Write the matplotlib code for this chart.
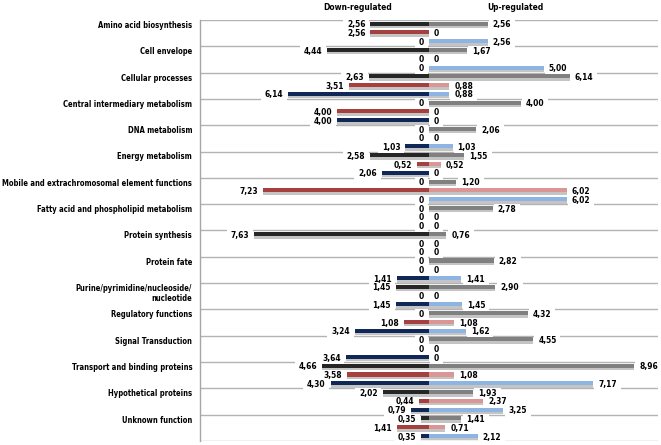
import matplotlib
matplotlib.use('Agg')
import matplotlib.pyplot as plt
import matplotlib.transforms as mtransforms
import numpy as np

categories = [
    "Amino acid biosynthesis",
    "Cell envelope",
    "Cellular processes",
    "Central intermediary metabolism",
    "DNA metabolism",
    "Energy metabolism",
    "Mobile and extrachromosomal element functions",
    "Fatty acid and phospholipid metabolism",
    "Protein synthesis",
    "Protein fate",
    "Purine/pyrimidine/nucleoside/\nnucleotide",
    "Regulatory functions",
    "Signal Transduction",
    "Transport and binding proteins",
    "Hypothetical proteins",
    "Unknown function",
]

# Down-regulated (left side)
down_black = [2.56, 4.44, 2.63, 0, 0, 2.58, 0, 0, 7.63, 0, 1.45, 0, 0, 4.66, 2.02, 0.35]
down_red   = [2.56, 0, 3.51, 4.00, 0, 0.52, 7.23, 0, 0, 0, 0, 1.08, 0, 3.58, 0.44, 1.41]
down_blue  = [0, 0, 6.14, 4.00, 1.03, 2.06, 0, 0, 0, 1.41, 1.45, 3.24, 3.64, 4.30, 0.79, 0.35]
# Up-regulated (right side)
up_gray    = [2.56, 1.67, 6.14, 4.00, 2.06, 1.55, 1.20, 2.78, 0.76, 2.82, 2.90, 4.32, 4.55, 8.96, 1.93, 1.41]
up_pink    = [0, 0, 0.88, 0, 0, 0.52, 6.02, 0, 0, 0, 0, 1.08, 0, 1.08, 2.37, 0.71]
up_lblue   = [2.56, 5.00, 0.88, 0, 1.03, 0, 6.02, 0, 0, 1.41, 1.45, 1.62, 0, 7.17, 3.25, 2.12]

FONT = dict(family='DejaVu Sans', fontweight='bold', fontstretch='condensed')

fig = plt.figure(figsize=(6.61, 4.45), dpi=100)
ax = fig.add_axes([200/661, 4/445, 458/661, 421/445])
n = len(categories)
ax.set_xlim(-10, 10)
ax.set_ylim(3*n, 0)
for s in ['top', 'right', 'bottom']:
    ax.spines[s].set_visible(False)
ax.spines['left'].set_color('#a6a6a6')
ax.spines['left'].set_linewidth(1)
ax.set_xticks([])
ax.set_yticks([])

for k in range(n + 1):
    ax.axhline(3*k, color='#b3b3b3', lw=1, zorder=1)

series = [
    (down_black, up_gray, '#262626', '#808080'),
    (down_red, up_pink, '#a5403f', '#d99694'),
    (down_blue, up_lblue, '#0f2858', '#8db4e2'),
]

def fmt(v):
    return "0" if v == 0 else f"{v:.2f}".replace('.', ',')

bh = 0.46
box = dict(boxstyle='square,pad=0.45', fc='white', ec='none')
for j, (dv, uv, dc, uc) in enumerate(series):
    y = np.arange(n)*3 + j + 0.5
    dv = np.array(dv, dtype=float)
    uv = np.array(uv, dtype=float)
    ax.barh(y + 0.2, -dv, height=bh, color='#c4c4c4', zorder=2.5, linewidth=0)
    ax.barh(y + 0.2, uv, height=bh, color='#c4c4c4', zorder=2.5, linewidth=0)
    ax.barh(y - 0.08, -dv, height=bh, color=dc, zorder=3, linewidth=0)
    ax.barh(y - 0.08, uv, height=bh, color=uc, zorder=3, linewidth=0)
    for yi, a, b in zip(y, dv, uv):
        for val, xv, off, ha in ((a, -a, -3.6, 'right'), (b, b, 3.6, 'left')):
            # white background box (hides gridlines) below the bars
            ax.annotate(fmt(val), xy=(xv, yi + 0.05), xytext=(off, 0), textcoords='offset points',
                        ha=ha, va='center', fontsize=6, bbox=box, color='none', zorder=2, **FONT)
            # the text itself on top
            ax.annotate(fmt(val), xy=(xv, yi + 0.05), xytext=(off, 0), textcoords='offset points',
                        ha=ha, va='center', fontsize=6, color='black', zorder=5, **FONT)

trans = mtransforms.blended_transform_factory(ax.transAxes, ax.transData)
for k, cat in enumerate(categories):
    ax.text(-0.017, 3*k + 0.1, cat, transform=trans, ha='right', va='top',
            fontsize=5.5, linespacing=1.15, **FONT)

fig.text(358/661, 1 - 7/445, 'Down-regulated', ha='center', va='center', fontsize=6, **FONT)
fig.text(515/661, 1 - 7/445, 'Up-regulated', ha='center', va='center', fontsize=6, **FONT)

fig.savefig('out.png', dpi=100)
